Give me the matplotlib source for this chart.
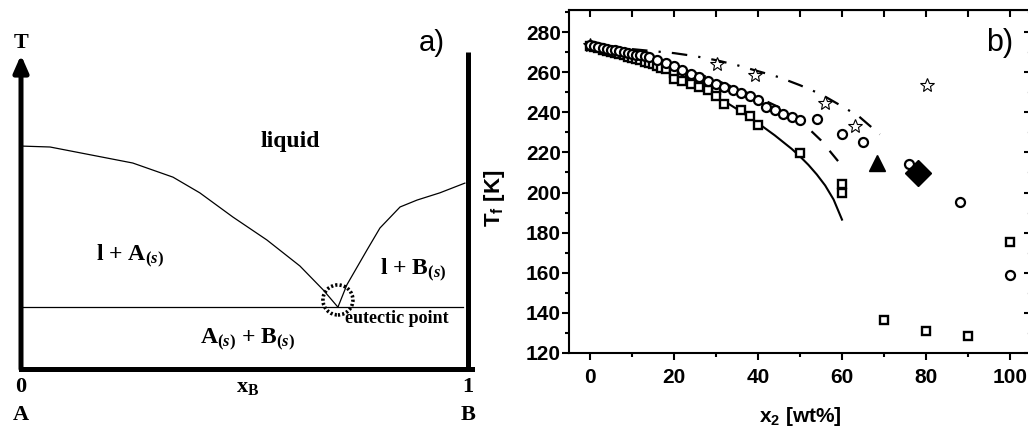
import matplotlib
matplotlib.use("Agg")
import matplotlib.pyplot as plt
from matplotlib.patches import Ellipse
from matplotlib.ticker import MultipleLocator

plt.rcParams['font.family'] = 'Liberation Sans'
plt.rcParams['mathtext.fontset'] = 'custom'
plt.rcParams['mathtext.rm'] = 'Liberation Serif:bold'
plt.rcParams['mathtext.it'] = 'Liberation Serif:bold:italic'
plt.rcParams['mathtext.bf'] = 'Liberation Serif:bold'
plt.rcParams['mathtext.sf'] = 'Liberation Sans:bold'

# --- a) schematic eutectic phase diagram (x_B 0..1, T in arbitrary units) ---
liq_A_x = [0.0, 0.065, 0.25, 0.34, 0.40, 0.474, 0.55, 0.624, 0.676, 0.709]
liq_A_T = [0.710, 0.707, 0.656, 0.611, 0.561, 0.484, 0.411, 0.328, 0.252, 0.197]
liq_B_x = [0.709, 0.729, 0.774, 0.803, 0.848, 0.886, 0.937, 0.993]
liq_B_T = [0.197, 0.268, 0.379, 0.449, 0.516, 0.538, 0.561, 0.592]
eutectic_x = 0.709
eutectic_T = 0.197

# --- b) freezing temperatures vs. composition ---
sq1_x = [0, 1, 2, 3, 4, 5, 6, 7, 8, 9, 10, 11, 12, 13, 14, 15, 16, 17, 18,
         20, 22, 24, 26, 28, 30]
sq1_T = [273.0, 272.5, 271.9, 271.3, 270.7, 270.1, 269.5, 268.9, 268.4, 267.8,
         267.2, 266.6, 266.0, 265.3, 264.6, 263.9, 263.1, 262.3, 261.5,
         259.4, 258.0, 256.5, 254.8, 253.0, 251.0]
sq2_x = [20, 22, 24, 26, 28, 30, 32, 36, 38, 40, 50, 60, 60, 70, 80, 90, 100]
sq2_T = [256.5, 255.6, 254.3, 252.8, 251.2, 248.2, 244.0, 241.2, 238.0, 233.8,
         219.8, 204.2, 199.9, 136.4, 131.0, 128.5, 175.5]
circ_x = [0, 1, 2, 3, 4, 5, 6, 7, 8, 9, 10, 11, 12, 13, 14, 16, 18, 20, 22, 24,
          26, 28, 30, 32, 34, 36, 38, 40, 42, 44, 46, 48, 50, 54, 60, 65, 76, 88, 100]
circ_T = [273.5, 273.0, 272.6, 272.2, 271.8, 271.3, 270.9, 270.5, 270.1, 269.6,
          269.2, 268.8, 268.4, 268.0, 267.6, 266.2, 264.5, 263.0, 261.0, 259.2,
          257.4, 255.6, 254.0, 252.4, 251.0, 249.6, 248.0, 246.0, 242.8, 241.0,
          239.4, 237.8, 236.4, 236.5, 229.3, 225.3, 214.0, 195.2, 158.9]
star_x = [0, 30.2, 39.3, 56.0, 63.1, 80.2]
star_T = [273.5, 264.0, 258.6, 244.5, 233.2, 253.6]
tri_x, tri_T = [68.3], [214.5]
dia_x, dia_T = [78.2], [209.5]

solid_x = [32, 36, 40, 44, 48, 50, 52, 54, 56, 58, 60]
solid_T = [245.5, 240.3, 234.6, 228.5, 221.8, 218.0, 213.8, 209.0, 203.5, 196.5, 186.5]
dash_x = [0, 10, 20, 30, 40, 45, 50, 55, 60.3]
dash_T = [273.0, 269.0, 263.5, 256.0, 247.5, 242.5, 236.0, 226.0, 212.5]
dashdot_x = [10, 20, 25, 30, 35, 40, 45, 50, 55, 60, 64, 69]
dashdot_T = [271.5, 269.5, 268.0, 266.0, 263.5, 260.5, 257.5, 253.5, 249.0, 243.0, 238.0, 229.0]

fig = plt.figure(figsize=(10.28, 4.28), dpi=100)

# ---------------- panel a ----------------
axa = fig.add_axes([21 / 1028, 59 / 428, 447 / 1028, 314 / 428])
axa.set_xlim(0, 1)
axa.set_ylim(0, 1)
axa.axis('off')

serif = dict(family='Liberation Serif', weight='bold', color='black')

axa.annotate('', xy=(0, 1.0), xytext=(0, 0),
             arrowprops=dict(arrowstyle='-|>,head_length=0.5,head_width=0.22',
                             lw=3.6, color='black', mutation_scale=20,
                             shrinkA=0, shrinkB=0), annotation_clip=False)
axa.plot([0, 1.01], [0, 0], color='black', lw=3.6, solid_capstyle='projecting',
         clip_on=False)
axa.plot([1, 1], [0, 1.01], color='black', lw=3.6, solid_capstyle='butt',
         clip_on=False)
axa.plot([0, 0.989], [eutectic_T, eutectic_T], color='black', lw=0.9, clip_on=False)
axa.plot(liq_A_x, liq_A_T, color='black', lw=0.9, clip_on=False)
axa.plot(liq_B_x, liq_B_T, color='black', lw=0.9, clip_on=False)
axa.add_patch(Ellipse((eutectic_x, eutectic_T + 0.023), 30 / 447, 30 / 314,
                      fill=False, ls=(0, (0.6, 0.6)), lw=2.6, color='black'))

axa.text(0, 1.038, 'T', fontsize=16, ha='center', va='center', **serif)
axa.text(0.919, 1.038, 'a)', fontsize=21, ha='center', va='center',
         family='Liberation Sans', color='black')
axa.text(0.602, 0.723, 'liquid', fontsize=17, ha='center', va='center', **serif)
axa.text(0.244, 0.357, 'l + A$_{(\\mathit{s})}$', fontsize=17, ha='center',
         va='center', **serif)
axa.text(0.877, 0.315, 'l + B$_{(\\mathit{s})}$', fontsize=17, ha='center',
         va='center', **serif)
axa.text(0.506, 0.092, 'A$_{(\\mathit{s})}$ + B$_{(\\mathit{s})}$', fontsize=17,
         ha='center', va='center', **serif)
axa.text(0.725, 0.162, 'eutectic point', fontsize=13, ha='left', va='center', **serif)
axa.text(0, -0.057, '0', fontsize=16, ha='center', va='center', **serif)
axa.text(1, -0.057, '1', fontsize=16, ha='center', va='center', **serif)
axa.text(0.508, -0.057, 'x$_{\\mathrm{B}}$', fontsize=16, ha='center', va='center', **serif)
axa.text(0, -0.146, 'A', fontsize=16, ha='center', va='center', **serif)
axa.text(1, -0.146, 'B', fontsize=16, ha='center', va='center', **serif)

# ---------------- panel b ----------------
axb = fig.add_axes([569 / 1028, 75 / 428, 462 / 1028, 343 / 428])
axb.set_xlim(-5, 105)
axb.set_ylim(120, 291)

mk = dict(ls='none', mfc='white', mec='black', clip_on=False)
axb.plot(solid_x, solid_T, color='black', lw=1.5)
axb.plot(dash_x, dash_T, color='black', lw=1.6, ls=(0, (6, 6)))
axb.plot(dashdot_x, dashdot_T, color='black', lw=1.6, ls=(0, (7, 5, 1, 5)))
axb.plot(star_x, star_T, marker='*', ms=10, mew=0.8, **mk)
axb.plot(sq1_x, sq1_T, marker='s', ms=5.5, mew=1.7, **mk)
axb.plot(sq2_x, sq2_T, marker='s', ms=5.5, mew=1.7, **mk)
axb.plot(circ_x, circ_T, marker='o', ms=6.5, mew=1.6, **mk)
axb.plot(tri_x, tri_T, ls='none', marker='^', ms=12, color='black')
axb.plot(dia_x, dia_T, ls='none', marker='D', ms=13, color='black')

for s in axb.spines.values():
    s.set_linewidth(1.5)

axb.xaxis.set_major_locator(MultipleLocator(20))
axb.xaxis.set_minor_locator(MultipleLocator(10))
axb.yaxis.set_major_locator(MultipleLocator(20))
axb.yaxis.set_minor_locator(MultipleLocator(10))
axb.tick_params(which='major', direction='out', length=5, width=1.5,
                labelsize=15, pad=1)
axb.tick_params(axis='x', which='major', pad=6)
axb.tick_params(which='minor', direction='out', length=3, width=1.5)
for lab in axb.get_xticklabels() + axb.get_yticklabels():
    lab.set_fontweight('bold')

top = axb.secondary_xaxis('top')
top.xaxis.set_major_locator(MultipleLocator(10))
top.tick_params(direction='in', length=5, width=1.5, labeltop=False)
right = axb.secondary_yaxis('right')
right.yaxis.set_major_locator(MultipleLocator(20))
right.yaxis.set_minor_locator(MultipleLocator(10))
right.tick_params(which='major', direction='in', length=5, width=1.5, labelright=False)
right.tick_params(which='minor', direction='in', length=3, width=1, color='#cccccc')

axb.set_xlabel('x$_{\\mathsf{2}}$ [wt%]', fontsize=15, fontweight='bold')
axb.xaxis.set_label_coords(0.5, -0.152)
axb.set_ylabel('T$_{\\mathsf{f}}$ [K]', fontsize=16, fontweight='bold')
axb.yaxis.set_label_coords(-0.135, 0.45)

fig.text(1000 / 1028, 1 - 43 / 428, 'b)', fontsize=22, ha='center', va='center')

fig.savefig('out.png', dpi=100)
